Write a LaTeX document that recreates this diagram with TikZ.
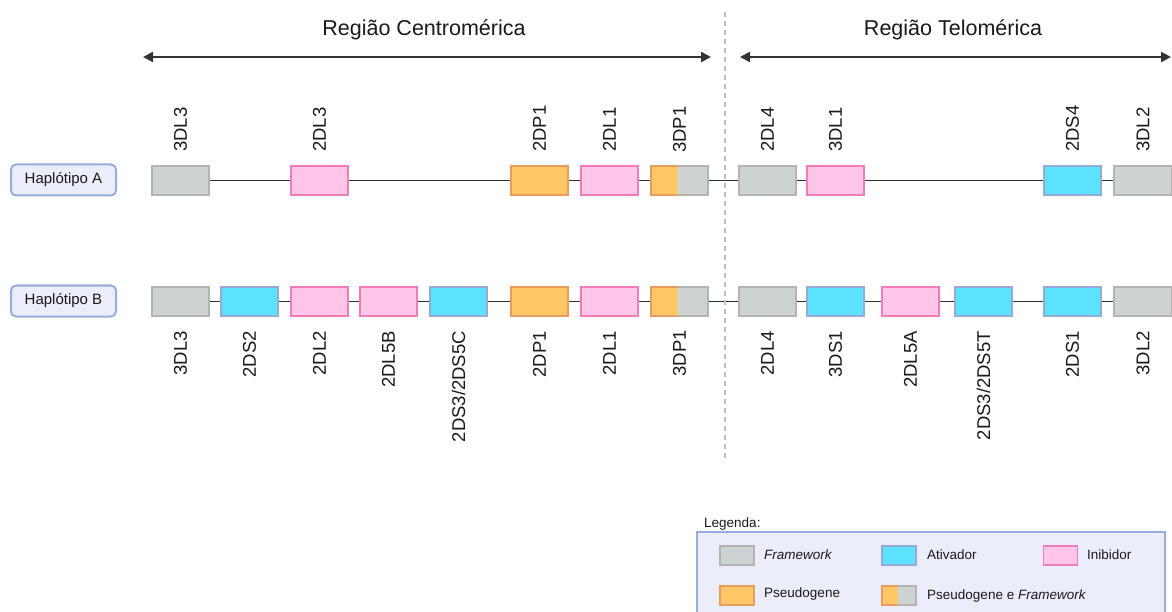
\documentclass[tikz,border=0pt]{standalone}
\usepackage{fontspec}
\setmainfont{Liberation Sans}
\usetikzlibrary{calc,arrows.meta}
\definecolor{gfill}{HTML}{CDD2D2}
\definecolor{gbd}{HTML}{B4B4B4}
\definecolor{pfill}{HTML}{FFC6E9}
\definecolor{pbd}{HTML}{F07DB8}
\definecolor{ofill}{HTML}{FFC766}
\definecolor{obd}{HTML}{E89C5E}
\definecolor{bfill}{HTML}{5CE1FF}
\definecolor{bbd}{HTML}{95AAD6}
\definecolor{hfill}{HTML}{EBEEFA}
\definecolor{hbd}{HTML}{95AEDD}
\definecolor{txt}{HTML}{1A1A1A}
\definecolor{arr}{HTML}{333333}
\definecolor{dashc}{HTML}{BDBDBD}
\begin{document}
\begin{tikzpicture}[x=1pt,y=-1pt,
  gbox/.style={line width=2pt, minimum width=57pt, minimum height=29pt, inner sep=0pt},
  grayG/.style={gbox, draw=gbd, fill=gfill},
  pinkG/.style={gbox, draw=pbd, fill=pfill},
  orangeG/.style={gbox, draw=obd, fill=ofill},
  blueG/.style={gbox, draw=bbd, fill=bfill},
  splitG/.style={gbox, draw=none, outer sep=0pt},
  lbl/.style={rotate=90, inner sep=0pt, text=txt, font=\fontsize{18.5}{20}\selectfont},
  hap/.style={draw=hbd, fill=hfill, line width=2pt, rounded corners=5pt, minimum width=105pt, minimum height=31pt, inner sep=0pt, text=txt, font=\fontsize{15}{17}\selectfont},
  conn/.style={draw=arr, line width=1.3pt},
  reg/.style={draw=arr, line width=2.2pt, {Triangle[length=10pt,width=10pt]}-{Triangle[length=10pt,width=10pt]}},
  title/.style={text=txt, inner sep=0pt, font=\fontsize{21.5}{24}\selectfont},
  sw/.style={line width=1.6pt, minimum width=34pt, minimum height=19pt, inner sep=0pt},
  legt/.style={anchor=west, inner sep=0pt, text=txt, font=\fontsize{13.5}{15}\selectfont}
]
\useasboundingbox (0,0) rectangle (1172,612);
\fill[white] (0,0) rectangle (1172,612);

% region titles and arrows
\node[title] (tc) at (424,30) {Região Centromérica};
\node[title] (tt) at (953,30) {Região Telomérica};
\coordinate (c1) at (143,57);
\coordinate (c2) at (711,57);
\coordinate (t1) at (740,57);
\coordinate (t2) at (1171,57);
\draw[reg] (c1) -- (c2);
\draw[reg] (t1) -- (t2);

% haplotype labels
\node[hap] (hA) at (63.5,180) {Haplótipo A};
\node[hap] (hB) at (63.5,301) {Haplótipo B};

% Row A
\node[grayG]   (A1) at (180.5,180.5) {};
\node[pinkG]   (A2) at (319.5,180.5) {};
\node[orangeG] (A3) at (539.5,180.5) {};
\node[pinkG]   (A4) at (609.5,180.5) {};
\node[splitG]  (A5) at (679.5,180.5) {};
\node[grayG]   (A6) at (767.5,180.5) {};
\node[pinkG]   (A7) at (835.5,180.5) {};
\node[blueG]   (A8) at (1072.5,180.5) {};
\node[grayG, minimum width=58pt]   (A9) at (1143,180.5) {};
\foreach \a/\b in {A1/A2,A2/A3,A3/A4,A4/A5,A5/A6,A6/A7,A7/A8,A8/A9}
  \draw[conn] (\a.east) -- (\b.west);

% Row B
\node[grayG]   (B1) at (180.5,301.5) {};
\node[blueG]   (B2) at (249.5,301.5) {};
\node[pinkG]   (B3) at (319.5,301.5) {};
\node[pinkG]   (B4) at (388.5,301.5) {};
\node[blueG]   (B5) at (458.5,301.5) {};
\node[orangeG] (B6) at (539.5,301.5) {};
\node[pinkG]   (B7) at (609.5,301.5) {};
\node[splitG]  (B8) at (679.5,301.5) {};
\node[grayG]   (B9) at (767.5,301.5) {};
\node[blueG]   (B10) at (835.5,301.5) {};
\node[pinkG]   (B11) at (910.5,301.5) {};
\node[blueG]   (B12) at (983.5,301.5) {};
\node[blueG]   (B13) at (1072.5,301.5) {};
\node[grayG, minimum width=58pt]   (B14) at (1143,301.5) {};
\foreach \a/\b in {B1/B2,B2/B3,B3/B4,B4/B5,B5/B6,B6/B7,B7/B8,B8/B9,B9/B10,B10/B11,B11/B12,B12/B13,B13/B14}
  \draw[conn] (\a.east) -- (\b.west);

% split boxes (pseudogene + framework)
\foreach \n in {A5,B8}{
  \fill[gfill] ($(\n.north west)+(27,0)$) rectangle (\n.south east);
  \fill[ofill] (\n.north west) rectangle ($(\n.south west)+(27,0)$);
  \draw[gbd, line width=2pt, line join=miter] ($(\n.north west)+(27,0)$) -- (\n.north east) -- (\n.south east) -- ($(\n.south west)+(27,0)$);
  \draw[obd, line width=2pt, line join=miter] ($(\n.north west)+(27,0)$) -- (\n.north west) -- (\n.south west) -- ($(\n.south west)+(27,0)$);
}

% top labels
\foreach \n/\t in {A1/3DL3,A2/2DL3,A3/2DP1,A4/2DL1,A5/3DP1,A6/2DL4,A7/3DL1,A8/2DS4,A9/3DL2}
  \node[lbl, anchor=west] (l\n) at ([yshift=13pt]\n.north) {\t};
% bottom labels
\foreach \n/\t in {B1/3DL3,B2/2DS2,B3/2DL2,B4/2DL5B,B5/2DS3\slash 2DS5C,B6/2DP1,B7/2DL1,B8/3DP1,B9/2DL4,B10/3DS1,B11/2DL5A,B12/2DS3\slash 2DS5T,B13/2DS1,B14/3DL2}
  \node[lbl, anchor=east] (l\n) at ([yshift=-14pt]\n.south) {\t};

% divider
\coordinate (d1) at (725,12);
\coordinate (d2) at (725,461);
\draw[dashc, line width=2.4pt, dash pattern=on 5pt off 4pt] (d1) -- (d2);

% legend
\node[legt] (legtitle) at (704,524) {Legenda:};
\draw[draw=hbd, fill=hfill, line width=2pt] (697,532) rectangle (1165,630);
\node[sw, draw=gbd, fill=gfill] (s1) at (737,555.5) {};
\node[legt] (e1) at (764,554.5) {\itshape Framework};
\node[sw, draw=bbd, fill=bfill] (s2) at (899,555.5) {};
\node[legt] (e2) at (927,554.5) {Ativador};
\node[sw, draw=pbd, fill=pfill] (s3) at (1060.5,555.5) {};
\node[legt] (e3) at (1087,554.5) {Inibidor};
\node[sw, draw=obd, fill=ofill] (s4) at (737,595.5) {};
\node[legt] (e4) at (764,594.5) {Pseudogene};
\node[sw, draw=none, outer sep=0pt] (s5) at (899,595.5) {};
\fill[gfill] ($(s5.north west)+(16,0)$) rectangle (s5.south east);
\fill[ofill] (s5.north west) rectangle ($(s5.south west)+(16,0)$);
\draw[gbd, line width=1.6pt] ($(s5.north west)+(16,0)$) -- (s5.north east) -- (s5.south east) -- ($(s5.south west)+(16,0)$);
\draw[obd, line width=1.6pt] ($(s5.north west)+(16,0)$) -- (s5.north west) -- (s5.south west) -- ($(s5.south west)+(16,0)$);
\node[legt] (e5) at (927,596) {Pseudogene e \itshape Framework};
\end{tikzpicture}
\end{document}
